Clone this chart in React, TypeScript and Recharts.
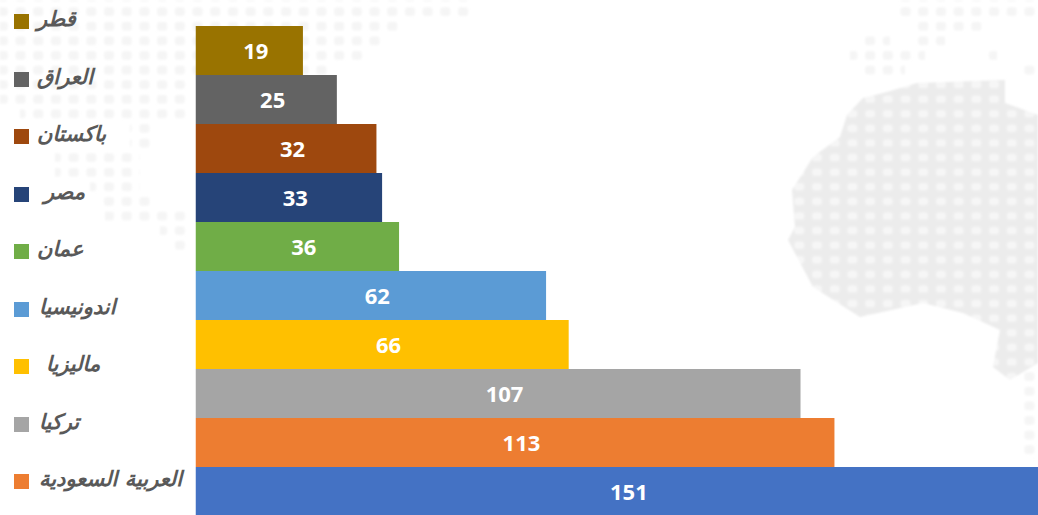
import React from "react";
import { BarChart, Bar, XAxis, YAxis, Cell, LabelList } from "recharts";

const categories = ["قطر", "العراق", "باكستان", "مصر", "عمان", "اندونيسيا", "ماليزيا", "تركيا", "العربية السعودية", ""];
const values = [19, 25, 32, 33, 36, 62, 66, 107, 113, 151];
const colors = ["#997300", "#636363", "#9E480E", "#264478", "#70AD47", "#5B9BD5", "#FFC000", "#A5A5A5", "#ED7D31", "#4472C4"];
const legendNames = categories.slice(0, 9);
const legendSquareTops = [14, 72, 129, 187, 244, 302, 359, 417, 474];
const legendLabelLefts = [37, 37, 37, 44, 37, 39, 46, 39, 39];

const rows = categories.map((name, i) => ({ name, value: values[i] }));

const FONT = '"Open Sans", "Noto Sans", Roboto, sans-serif';

// decorative map background: dotted regions as [x0, x1, y0, y1]
const dotRegions: number[][] = [
  [0, 470, 0, 19], [0, 400, 19, 33], [0, 382, 33, 48], [0, 365, 48, 63], [0, 332, 63, 78],
  [0, 190, 78, 108], [20, 190, 108, 122], [130, 155, 122, 152], [55, 140, 152, 181],
  [90, 140, 181, 196], [100, 150, 196, 210], [105, 190, 210, 225], [160, 190, 225, 240], [175, 190, 240, 255],
  [900, 1038, 0, 19], [915, 985, 19, 33], [865, 890, 33, 48], [915, 945, 33, 48],
  [850, 925, 48, 63], [985, 997, 48, 63], [865, 905, 63, 78], [1020, 1038, 63, 78],
  [1024, 1038, 370, 460],
];
const landOutline = [
  [917, 83], [1005, 80], [1005, 103], [1038, 115], [1038, 363], [1010, 380], [993, 367], [1000, 330],
  [963, 313], [923, 303], [860, 317], [813, 287], [788, 240], [795, 227], [792, 190], [813, 157],
  [840, 137], [847, 115], [863, 98], [887, 92],
];
const dotsPath = dotRegions.map(([a, b, c, d]) => `M${a} ${c}H${b}V${d}H${a}Z`).join("");
const landPath = "M" + landOutline.map((p) => p.join(" ")).join("L") + "Z";

function renderLabel(props: any) {
  const { x, y, width, height, value } = props;
  return (
    <text x={x + width / 2 + 6.5} y={y + height / 2 + 1} dy="0.36em" textAnchor="middle" fill="#fff" fontFamily={FONT} fontWeight={700} fontSize={22}>
      {value}
    </text>
  );
}

function Background() {
  return (
    <svg width={1038} height={515} style={{ position: "absolute", left: 0, top: 0 }}>
      <defs>
        <filter id="soft" x="-5%" y="-5%" width="110%" height="110%">
          <feGaussianBlur stdDeviation={1.3} />
        </filter>
        <pattern id="dots" width={17.7} height={14.6} patternUnits="userSpaceOnUse" patternTransform="translate(-6.15 4.4)">
          <rect x={4} y={3} width={10} height={8.5} rx={3} fill="#f5f5f5" />
        </pattern>
        <pattern id="land" width={17.7} height={14.6} patternUnits="userSpaceOnUse" patternTransform="translate(-6.15 4.4)">
          <rect width={17.7} height={14.6} fill="#ececec" />
          <rect x={4} y={3.5} width={10} height={7.5} rx={3} fill="#f6f6f6" />
        </pattern>
      </defs>
      <g filter="url(#soft)">
        <path d={dotsPath} fill="url(#dots)" />
        <path d={landPath} fill="url(#land)" />
      </g>
    </svg>
  );
}

export default function App() {
  return (
    <div style={{ position: "absolute", left: 0, top: 0, width: 1038, height: 515, overflow: "hidden", background: "#fff" }}>
      <Background />
      <div style={{ position: "absolute", left: 0, top: 0 }}>
        <BarChart
          width={1038}
          height={516}
          layout="vertical"
          data={rows}
          barCategoryGap={0}
          margin={{ top: 26, right: 0, bottom: 0, left: 195.5 }}
        >
          <XAxis type="number" hide domain={[0, 149]} allowDataOverflow />
          <YAxis type="category" dataKey="name" hide width={0} />
          <Bar dataKey="value" isAnimationActive={false}>
            {rows.map((_, i) => (
              <Cell key={i} fill={colors[i]} />
            ))}
            <LabelList dataKey="value" content={renderLabel} />
          </Bar>
        </BarChart>
      </div>
      {legendNames.map((name, i) => (
        <div key={name}>
          <div style={{ position: "absolute", left: 14, top: legendSquareTops[i], width: 15, height: 15, background: colors[i] }} />
          <div
            dir="rtl"
            style={{
              position: "absolute",
              left: legendLabelLefts[i],
              top: legendSquareTops[i] - 9,
              whiteSpace: "nowrap",
              fontFamily: '"DejaVu Sans", "Noto Sans", sans-serif',
              fontStyle: "italic",
              fontWeight: 700,
              fontSize: 21,
              lineHeight: "28px",
              color: "#595959",
            }}
          >
            {name}
          </div>
        </div>
      ))}
    </div>
  );
}
